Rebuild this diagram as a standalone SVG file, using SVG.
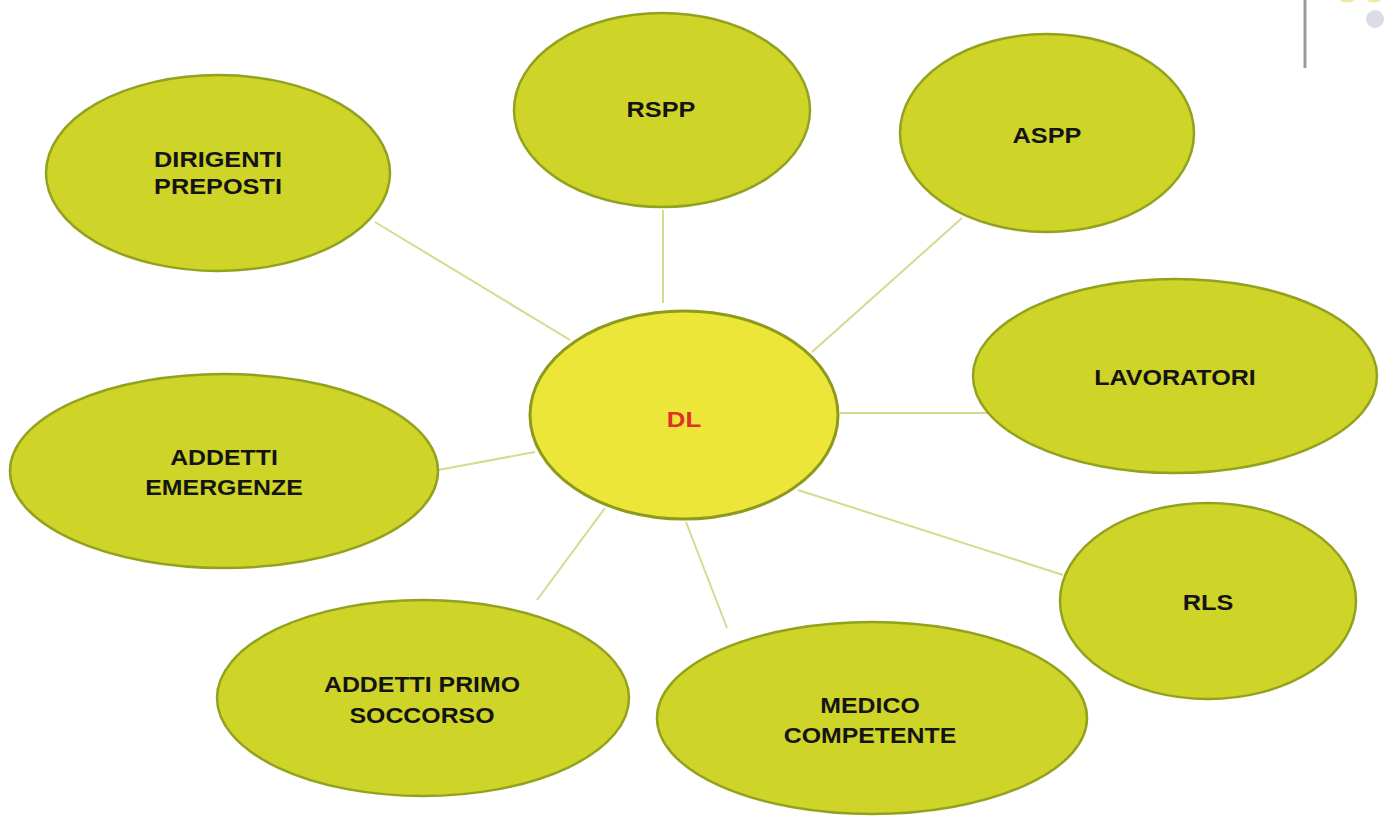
<svg xmlns="http://www.w3.org/2000/svg" width="1386" height="816" viewBox="0 0 1386 816">
<style>
.node ellipse{fill:#cfd428;stroke:#93a21e;stroke-width:2.5}
#dl ellipse{fill:#ece638;stroke:#8e9a1c;stroke-width:3}
.lbl{font-family:"Liberation Sans",Arial,sans-serif;font-weight:bold;font-size:22px;fill:#141414;text-anchor:middle}
#dl .lbl{fill:#e0302a;font-size:23px}
#connectors line{stroke:#d6da8e;stroke-width:2}
</style>
<rect width="1386" height="816" fill="#ffffff"/>
<g id="decor">
<line x1="1305" y1="0" x2="1305" y2="68" stroke="#9a9a9a" stroke-width="3"/>
<circle cx="1375" cy="19" r="9" fill="#dcdce6"/>
<ellipse cx="1347" cy="0" rx="7" ry="2.5" fill="#f3e9a0"/>
<ellipse cx="1374" cy="0" rx="7" ry="2.5" fill="#f3e9a0"/>
</g>
<g id="connectors">
<line x1="375" y1="222" x2="570" y2="340"/>
<line x1="663" y1="210" x2="663" y2="303"/>
<line x1="962" y1="218" x2="812" y2="352"/>
<line x1="840" y1="413" x2="990" y2="413"/>
<line x1="798" y1="490" x2="1063" y2="575"/>
<line x1="686" y1="522" x2="727" y2="628"/>
<line x1="605" y1="508" x2="537" y2="600"/>
<line x1="438" y1="470" x2="535" y2="452"/>
</g>
<g id="dirigenti" class="node">
<ellipse cx="218" cy="173" rx="172" ry="98"/>
<g transform="translate(218,0) scale(1.15,1)"><text class="lbl" x="0" y="167">DIRIGENTI</text><text class="lbl" x="0" y="194">PREPOSTI</text></g>
</g>
<g id="rspp" class="node">
<ellipse cx="662" cy="110" rx="148" ry="97"/>
<g transform="translate(661,0) scale(1.15,1)"><text class="lbl" x="0" y="117">RSPP</text></g>
</g>
<g id="aspp" class="node">
<ellipse cx="1047" cy="133" rx="147" ry="99"/>
<g transform="translate(1047,0) scale(1.15,1)"><text class="lbl" x="0" y="143">ASPP</text></g>
</g>
<g id="lavoratori" class="node">
<ellipse cx="1175" cy="376" rx="202" ry="97"/>
<g transform="translate(1175,0) scale(1.14,1)"><text class="lbl" x="0" y="385">LAVORATORI</text></g>
</g>
<g id="emergenze" class="node">
<ellipse cx="224" cy="471" rx="214" ry="97"/>
<g transform="translate(224,0) scale(1.13,1)"><text class="lbl" x="0" y="465">ADDETTI</text><text class="lbl" x="0" y="495">EMERGENZE</text></g>
</g>
<g id="rls" class="node">
<ellipse cx="1208" cy="601" rx="148" ry="98"/>
<g transform="translate(1208,0) scale(1.15,1)"><text class="lbl" x="0" y="610">RLS</text></g>
</g>
<g id="primosoccorso" class="node">
<ellipse cx="423" cy="698" rx="206" ry="98"/>
<g transform="translate(422,0) scale(1.13,1)"><text class="lbl" x="0" y="692">ADDETTI PRIMO</text><text class="lbl" x="0" y="723">SOCCORSO</text></g>
</g>
<g id="medico" class="node">
<ellipse cx="872" cy="718" rx="215" ry="96"/>
<g transform="translate(870,0) scale(1.13,1)"><text class="lbl" x="0" y="713">MEDICO</text><text class="lbl" x="0" y="743">COMPETENTE</text></g>
</g>
<g id="dl" class="node">
<ellipse cx="684" cy="415" rx="154" ry="104"/>
<g transform="translate(684,0) scale(1.12,1)"><text class="lbl" x="0" y="427">DL</text></g>
</g>
</svg>
